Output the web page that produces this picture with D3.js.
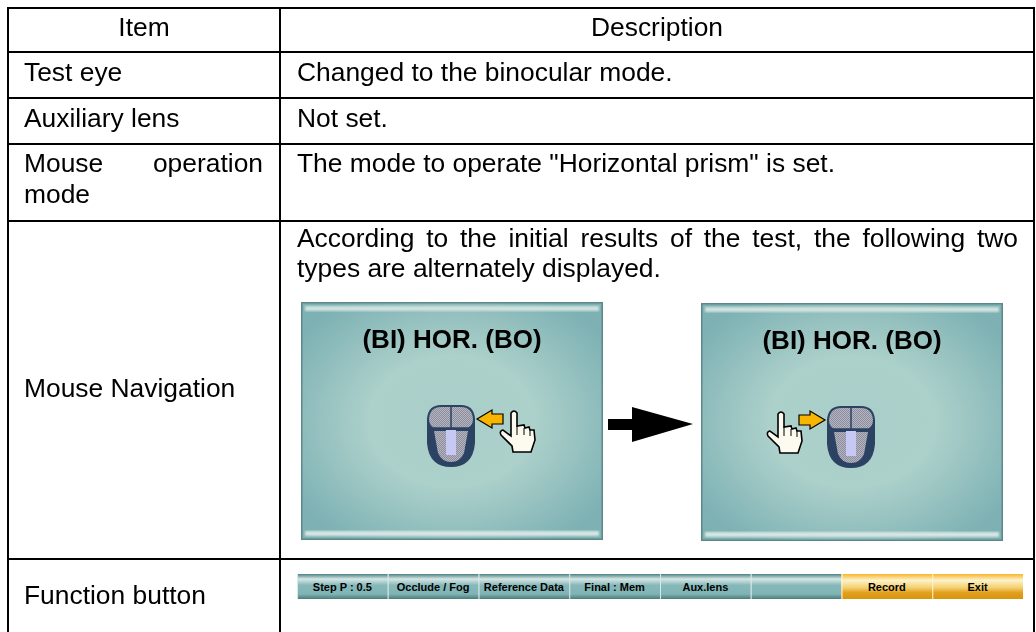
<!DOCTYPE html>
<html>
<head>
<meta charset="utf-8">
<script src="https://cdn.jsdelivr.net/npm/d3@7"></script>
<style>
  html, body { margin: 0; padding: 0; background: #fff; }
  svg { display: block; }
  text { font-family: "Liberation Sans", Arial, sans-serif; fill: #000; }
</style>
</head>
<body>
<div id="chart"></div>
<script>
const headers = ["Item", "Description"];
const items = ["Test eye", "Auxiliary lens", "Mouse operation mode", "Mouse Navigation", "Function button"];
const descriptions = [
  "Changed to the binocular mode.",
  "Not set.",
  "The mode to operate \"Horizontal prism\" is set."
];
const navigationText = [
  "According to the initial results of the test, the following two",
  "types are alternately displayed."
];
const navigationTitle = "(BI) HOR. (BO)";
const buttons = ["Step P : 0.5", "Occlude / Fog", "Reference Data", "Final : Mem", "Aux.lens", "", "Record", "Exit"];
const highlighted = ["Record", "Exit"];

const width = 1036, height = 632;
const fontSize = 26.4;
const colEdges = [8, 280, 1034];
const rowEdges = [8, 52, 98, 144, 221, 559];

const svg = d3.select("#chart").append("svg")
    .attr("width", width)
    .attr("height", height)
    .attr("viewBox", [0, 0, width, height]);

const defs = svg.append("defs");

const panelGradient = defs.append("radialGradient").attr("id", "panel")
    .attr("cx", "50%").attr("cy", "50%").attr("r", "62%");
panelGradient.append("stop").attr("offset", "0%").attr("stop-color", "#a9cdc8");
panelGradient.append("stop").attr("offset", "45%").attr("stop-color", "#acd0ca");
panelGradient.append("stop").attr("offset", "100%").attr("stop-color", "#7db1b4");

function barGradient(id, stops) {
  const g = defs.append("linearGradient").attr("id", id).attr("x1", 0).attr("x2", 0).attr("y1", 0).attr("y2", 1);
  stops.forEach(([o, c]) => g.append("stop").attr("offset", o).attr("stop-color", c));
}
barGradient("tealButton", [[0, "#4b8082"], [0.2, "#d6e7e5"], [0.45, "#86b8b9"], [0.8, "#80b4b5"], [1, "#4a7c7d"]]);
barGradient("goldButton", [[0, "#f6b52c"], [0.25, "#fdf3cb"], [0.55, "#f3cf6d"], [0.75, "#e19f1c"], [1, "#d99510"]]);

defs.append("filter").attr("id", "soft").append("feGaussianBlur").attr("stdDeviation", 0.9);
defs.append("filter").attr("id", "textSoft").append("feGaussianBlur").attr("stdDeviation", 0.35);

// dithered mouse shell
const dither = defs.append("pattern").attr("id", "dither")
    .attr("width", 2).attr("height", 2).attr("patternUnits", "userSpaceOnUse");
dither.append("rect").attr("width", 2).attr("height", 2).attr("fill", "#8e8e96");
dither.append("rect").attr("width", 1).attr("height", 1).attr("fill", "#b4b4c8");
dither.append("rect").attr("x", 1).attr("y", 1).attr("width", 1).attr("height", 1).attr("fill", "#b4b4c8");

// table grid, no closing rule at the bottom
const grid = svg.append("g").attr("stroke", "#000").attr("stroke-width", 2);
grid.selectAll("line.h").data(rowEdges).join("line").attr("class", "h")
    .attr("x1", colEdges[0] - 1).attr("x2", colEdges[2] + 1)
    .attr("y1", d => d).attr("y2", d => d);
grid.selectAll("line.v").data(colEdges).join("line").attr("class", "v")
    .attr("y1", rowEdges[0]).attr("y2", height)
    .attr("x1", d => d).attr("x2", d => d);

const textLayer = svg.append("g").attr("font-size", fontSize).attr("filter", "url(#textSoft)");

textLayer.selectAll("text.head").data(headers).join("text").attr("class", "head")
    .attr("x", (d, i) => (colEdges[i] + colEdges[i + 1]) / 2)
    .attr("y", 36)
    .attr("text-anchor", "middle")
    .text(d => d);

const itemBase = [81, 127, 172, 397, 604];
textLayer.selectAll("text.item").data(items.filter(d => d !== "Mouse operation mode")).join("text").attr("class", "item")
    .attr("x", 24)
    .attr("y", d => itemBase[items.indexOf(d)])
    .text(d => d);

// the justified cell wraps by hand
textLayer.append("text").attr("x", 24).attr("y", itemBase[2]).text("Mouse");
textLayer.append("text").attr("x", 263).attr("y", itemBase[2]).attr("text-anchor", "end").text("operation");
textLayer.append("text").attr("x", 24).attr("y", itemBase[2] + 31).text("mode");

textLayer.selectAll("text.desc").data(descriptions).join("text").attr("class", "desc")
    .attr("x", 297)
    .attr("y", (d, i) => itemBase[i])
    .text(d => d);

const firstLine = textLayer.append("text").attr("x", 297).attr("y", 247).text(navigationText[0]);
const spare = 721 - firstLine.node().getComputedTextLength();
firstLine.attr("word-spacing", spare / (navigationText[0].split(" ").length - 1));
textLayer.append("text").attr("x", 297).attr("y", 277).text(navigationText[1]);

// screenshot panels
function drawMouse(g) {
  g.append("path").attr("fill", "#2b4263")
      .attr("d", "M0,14 Q1,0 14,0 L34,0 Q47,0 48,14 L48,38 Q46,62 24,62 Q2,62 0,38 Z");
  g.append("path").attr("fill", "url(#dither)")
      .attr("d", "M2,14 Q3,2 14,2 L34,2 Q45,2 46,14 Q46,20 41,23 L7,23 Q2,20 2,14 Z");
  g.append("path").attr("fill", "url(#dither)")
      .attr("d", "M7,26 L41,26 L37,48 Q33,57 24,57 Q15,57 11,48 Z");
  g.append("path").attr("fill", "#c8c8f4").attr("d", "M19,25 L29,25 L29,50 L19,50 Z");
  g.append("line").attr("x1", 24).attr("x2", 24).attr("y1", 1).attr("y2", 23).attr("stroke", "#2b4263").attr("stroke-width", 1.5);
  g.append("line").attr("x1", 6).attr("x2", 42).attr("y1", 23).attr("y2", 23).attr("stroke", "#2b4263").attr("stroke-width", 1.5);
}

function drawHand(g) {
  // pointing hand, origin at upper left of its box
  g.append("path").attr("fill", "#fdfbf0").attr("stroke", "#000").attr("stroke-width", 1.6)
      .attr("d", "M11,3 Q14,-1 17,3 L17,16 L24,15 L25,18 L29,17 L30,20 L34,20 L35,30 L31,42 L13,42 L12,36 L1,25 Q-1,21 3,20 L11,26 Z");
  g.append("path").attr("fill", "none").attr("stroke", "#000").attr("stroke-width", 1)
      .attr("d", "M17,16 L17,25 M24,18 L24,25 M30,20 L30,26");
}

function drawArrow(g, dir) {
  g.append("path").attr("fill", "#f7b500").attr("stroke", "#000").attr("stroke-width", 1.2)
      .attr("transform", dir < 0 ? "translate(26,0) scale(-1,1)" : null)
      .attr("d", "M0,4 L11,4 L11,0 L26,9 L11,18 L11,14 L0,14 Z");
}

function drawPanel(x, y, dir) {
  const w = 302, h = 238;
  const g = svg.append("g").attr("transform", `translate(${x},${y})`);
  g.append("rect").attr("width", w).attr("height", h).attr("fill", "#5d8788");
  g.append("rect").attr("x", 1.5).attr("y", 1.5).attr("width", w - 3).attr("height", h - 3).attr("fill", "url(#panel)");
  g.append("rect").attr("x", 4).attr("y", 4).attr("width", w - 8).attr("height", 5).attr("fill", "#cfe2de").attr("filter", "url(#soft)");
  g.append("rect").attr("x", 4).attr("y", h - 9).attr("width", w - 8).attr("height", 5).attr("fill", "#d6e6e3").attr("filter", "url(#soft)");
  g.append("text").attr("x", w / 2).attr("y", 46).attr("text-anchor", "middle")
      .attr("font-size", 26).attr("font-weight", "bold").attr("filter", "url(#textSoft)")
      .attr("fill", "#111").text(navigationTitle);
  drawMouse(g.append("g").attr("transform", "translate(126,103)"));
  if (dir < 0) {
    drawArrow(g.append("g").attr("transform", "translate(176,108)"), -1);
    drawHand(g.append("g").attr("transform", "translate(199,108)"));
  } else {
    drawHand(g.append("g").attr("transform", "translate(66,108)"));
    drawArrow(g.append("g").attr("transform", "translate(98,108)"), 1);
  }
}
drawPanel(301, 302, -1);
drawPanel(701, 303, 1);

// arrow between the panels
svg.append("path").attr("fill", "#000")
    .attr("d", d3.line()([[608, 419], [632, 419], [632, 407], [693, 424], [632, 442], [632, 430], [608, 430]]) + "Z");

// function buttons
const buttonX = d3.scaleBand().domain(d3.range(buttons.length)).range([297, 1023]);
const buttonGroup = svg.append("g").selectAll("g").data(buttons).join("g")
    .attr("transform", (d, i) => `translate(${buttonX(i)},574)`);
buttonGroup.append("rect")
    .attr("width", buttonX.bandwidth())
    .attr("height", 25)
    .attr("fill", (d, i) => i >= buttons.length - highlighted.length ? "url(#goldButton)" : "url(#tealButton)");
buttonGroup.append("line")
    .attr("x1", 0.5).attr("x2", 0.5).attr("y1", 0).attr("y2", 25)
    .attr("stroke", (d, i) => i >= buttons.length - highlighted.length ? "#fff3c8" : "#d8e8e6");
buttonGroup.append("text")
    .attr("x", buttonX.bandwidth() / 2)
    .attr("y", 17)
    .attr("text-anchor", "middle")
    .attr("font-size", 11)
    .attr("font-weight", "bold")
    .attr("fill", "#10202a")
    .text(d => d);
</script>
</body>
</html>
